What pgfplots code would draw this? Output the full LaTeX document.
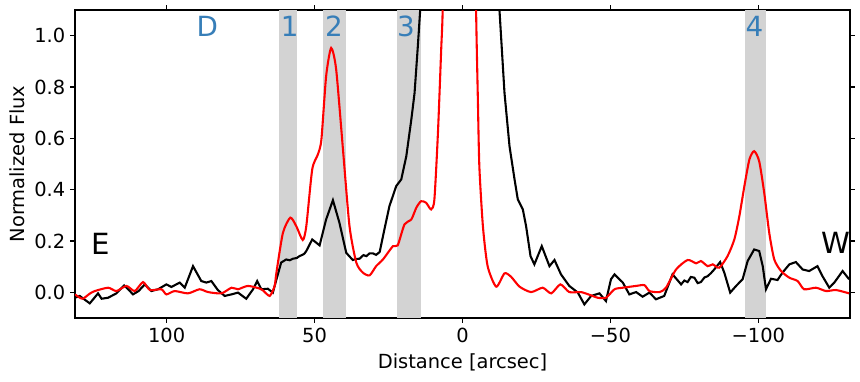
\documentclass[border=0pt]{standalone}
\usepackage{fontspec}
\setmainfont{DejaVu Sans}
\usepackage{pgfplots}
\pgfplotsset{compat=1.18}
\definecolor{bandgray}{HTML}{D3D3D3}
\definecolor{labblue}{HTML}{377EB8}

\begin{document}
\begin{tikzpicture}[x=1pt,y=1pt]
% figure frame: 860x381 px at 0.72pt per px, axis box at (75,10)-(850,318) px
\path[use as bounding box] (-54,-45.36) rectangle (565.2,228.96);
\begin{axis}[
  at={(0,0)}, anchor=south west,
  scale only axis, width=558pt, height=221.76pt,
  x dir=reverse,
  xmin=-131, xmax=131, ymin=-0.1, ymax=1.1,
  xtick={100,50,0,-50,-100},
  xticklabels={100,50,0,−50,−100},
  ytick={0,0.2,0.4,0.6,0.8,1.0},
  yticklabels={0.0,0.2,0.4,0.6,0.8,1.0},
  tick align=outside, major tick length=3.5pt,
  tick style={black, line width=0.8pt},
  axis line style={line width=0.8pt},
  ticklabel style={font=\fontsize{14}{16}\selectfont},
  label style={font=\fontsize{14}{16}\selectfont},
  xlabel={Distance [arcsec]}, ylabel={Normalized Flux},
  xlabel style={yshift=-1.5pt},
  ylabel style={yshift=0pt},
]
% highlighted regions
\fill[bandgray] (axis cs:62.2,-0.1) rectangle (axis cs:56.1,1.1);
\fill[bandgray] (axis cs:47.3,-0.1) rectangle (axis cs:39.5,1.1);
\fill[bandgray] (axis cs:22.3,-0.1) rectangle (axis cs:13.9,1.1);
\fill[bandgray] (axis cs:-95.6,-0.1) rectangle (axis cs:-102.7,1.1);

\addplot[black, line width=1.5pt] coordinates {
(131,-0.021) (129.4,-0.014) (126,-0.043) (123.2,-0.004) (122,-0.025) (119.8,-0.021)
(117,-0.004) (114.4,0.027) (113,0.012) (111.4,-0.008) (109.5,0.005) (107.4,0.031)
(105.2,0.005) (102.9,0.012) (100.1,0.031) (98.4,0.021) (95.6,0.038) (93.9,0.018)
(91.1,0.102) (88.3,0.044) (86.6,0.038) (84.9,0.044) (82.7,0.009) (80.4,-0.014)
(78.1,-0.008) (75.9,-0.001) (73.1,-0.025) (70.8,0.012) (69.4,0.044) (68.0,0.012)
(65.8,0.014) (64.1,-0.001) (63.5,0.025) (61.3,0.116) (59.6,0.128) (58.4,0.125)
(57.3,0.131) (56,0.134) (55,0.142) (54.5,0.144) (53.5,0.150) (52.8,0.161)
(50.8,0.206) (48.3,0.183) (46.1,0.284) (43.8,0.359)
(41.6,0.271) (39.3,0.154) (37.1,0.126) (36,0.130) (34.8,0.131) (33.5,0.145)
(32.5,0.141) (31.4,0.152) (30.3,0.152) (29.2,0.146)
(28.0,0.157) (26.4,0.245) (24.7,0.336) (22.4,0.414) (20.7,0.440) (19.0,0.530)
(17.3,0.673) (16.2,0.777) (15.1,0.958) (14.3,1.10) (13,1.6) (8,3) (0,5) (-8,3)
(-11,1.6) (-12.5,1.10) (-14.2,0.777) (-15.9,0.569) (-17.6,0.440) (-18.7,0.362)
(-20.4,0.323) (-21.5,0.258) (-23,0.141) (-24.3,0.109) (-26.8,0.180) (-29.4,0.102)
(-31.1,0.126) (-33.3,0.070) (-36.1,0.025) (-39.0,-0.001) (-41.2,-0.047) (-43.5,-0.014)
(-46.3,-0.004) (-48.5,-0.034) (-50.2,0.051) (-51.4,0.070) (-54.2,0.038) (-56.4,-0.008)
(-58.7,0.001) (-60.9,-0.017) (-63.2,-0.001) (-65.4,-0.027) (-68.2,-0.014) (-71.0,0.070)
(-72.5,0.050) (-73.9,0.031) (-75,0.046) (-76.1,0.040) (-77.2,0.060) (-78.4,0.057)
(-79.5,0.036) (-80.6,0.040) (-81.8,0.058) (-82.9,0.063) (-84,0.075) (-85.1,0.089)
(-87.1,0.118) (-88.5,0.077) (-90.5,-0.001) (-92.5,0.025) (-94.7,0.051) (-96.4,0.122)
(-98.6,0.167) (-100.3,0.161) (-101.5,0.102) (-102.6,0.012) (-104.3,0.053) (-106.5,0.048)
(-108.2,0.077) (-110.5,0.109) (-112.7,0.118) (-115,0.089) (-117.2,0.083) (-120,0.102)
(-121.7,0.063) (-124,0.018) (-125.7,0.038) (-128.5,0.083) (-130.7,0.051)
};

\addplot[red, line width=1.5pt, smooth, tension=0.4] coordinates {
(131,-0.008) (128.5,-0.025) (126,-0.005) (124.3,0.005) (119.8,0.018) (117,0.005)
(113.6,0.025) (110.8,0.005) (108,0.040) (105.7,0.009) (101.8,0.012) (100.1,-0.008)
(97.3,0.005) (92.8,-0.004) (88.9,0.012) (86.0,0.001) (81.5,-0.004) (78.1,0.018)
(75.9,0.012) (72.5,0.025) (68.0,0.012) (65.2,-0.014) (63.5,0.025) (62.9,0.077)
(60.7,0.232) (58.2,0.291) (56.2,0.258) (54.0,0.204) (52.8,0.258) (50.8,0.479)
(48.9,0.537) (47.7,0.595) (46.1,0.842) (44.4,0.952) (42.7,0.868) (40.4,0.556)
(38.2,0.258) (35.9,0.116) (33.7,0.077) (31.4,0.066) (29.2,0.102) (26.9,0.128)
(23.5,0.180) (21.9,0.183) (19.6,0.265) (17.3,0.284) (15.6,0.330) (14.0,0.355)
(12.3,0.349) (10.6,0.323) (9.5,0.362) (8.3,0.621) (7.2,0.946) (6.7,1.10) (6,1.6)
(3,3) (0,5) (-3,3) (-4.2,1.6) (-4.6,1.10) (-5.2,0.751) (-5.7,0.491) (-6.9,0.258)
(-8.5,0.102) (-11.4,0.022) (-14.2,0.074) (-16.4,0.061) (-19.3,0.022) (-23.2,0.001)
(-27.1,0.018) (-30,-0.004) (-33.1,0.031) (-36.1,0.001) (-40.1,0.001) (-43.5,-0.012)
(-45.7,-0.021) (-48.5,-0.021) (-51.4,0.012) (-54.2,0.018) (-58.7,0.025) (-61.5,0.028)
(-63.2,0.005) (-66.6,0.001) (-68.8,0.018) (-72.2,0.089) (-76.1,0.126) (-79.0,0.113)
(-80.6,0.122) (-82.9,0.102) (-84.6,0.109) (-86.8,0.096) (-89.6,0.141) (-91.9,0.206)
(-93.6,0.297) (-95.3,0.414) (-97.0,0.518) (-98.6,0.550) (-100.3,0.511) (-102,0.388)
(-103.7,0.232) (-105.4,0.128) (-107.7,0.083) (-110.5,0.057) (-113.3,0.044) (-115.5,0.012)
(-119.5,0.018) (-122.9,0.005) (-126.3,0.009) (-130.7,-0.004)
};

% annotations
\begin{scope}[every node/.style={inner sep=0pt, anchor=base west, text=labblue, font=\fontsize{20}{22}\selectfont}]
\node at (axis cs:90,0.995) {D};
\node at (axis cs:61.5,0.995) {1};
\node at (axis cs:46.5,0.995) {2};
\node at (axis cs:22.2,0.995) {3};
\node at (axis cs:-95.6,0.995) {4};
\end{scope}
\node[inner sep=0pt, anchor=base west, font=\fontsize{21}{24}\selectfont] at (axis cs:125.4,0.148) {E};
\node[inner sep=0pt, anchor=base west, font=\fontsize{21}{24}\selectfont] at (axis cs:-121.2,0.152) {W};
\end{axis}
\end{tikzpicture}
\end{document}
